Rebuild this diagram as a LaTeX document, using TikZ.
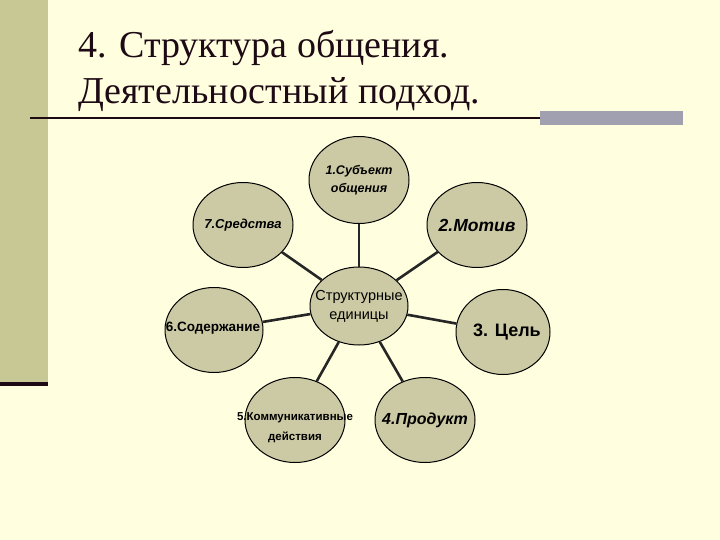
\documentclass[tikz,border=0pt]{standalone}
\usepackage{fontspec}
\setmainfont{Liberation Serif}
\newfontfamily\sansf{Liberation Sans}
\usetikzlibrary{shapes.geometric}
\definecolor{bg}{RGB}{255,255,224}
\definecolor{barc}{RGB}{200,200,148}
\definecolor{ellc}{RGB}{204,202,164}
\definecolor{grayb}{RGB}{160,160,176}
\definecolor{titc}{RGB}{30,10,20}
\begin{document}
\begin{tikzpicture}[x=1pt,y=-1pt,
  el/.style={ellipse,draw=black,line width=1pt,fill=ellc,minimum width=100pt,minimum height=85pt,inner sep=0pt},
  lbl/.style={inner sep=0pt,align=center},
  con/.style={line width=2.6pt,draw=black!85}]
\fill[bg] (0,0) rectangle (720,540);
\useasboundingbox (0,0) rectangle (720,540);
\fill[barc] (0,0) rectangle (48,382);
\fill[titc] (0,382) rectangle (48,386);
\fill[grayb] (540,111) rectangle (683,125);
\draw[line width=2pt,titc] (30,118) -- (540,118);
\node[anchor=base west,inner sep=0pt,text=titc,font=\fontsize{38}{40}\selectfont] (t1) at (78,58) {4. Структура общения.};
\node[anchor=base west,inner sep=0pt,text=titc,font=\fontsize{38}{40}\selectfont] (t2) at (78,104) {Деятельностный подход.};
\node[el,minimum width=98pt,minimum height=78pt] (c) at (359,306) {};
\node[el,minimum height=87pt] (n1) at (359,180) {};
\node[el] (n2) at (477,225) {};
\node[el,minimum width=94pt] (n3) at (503,332) {};
\node[el] (n4) at (425,420) {};
\node[el] (n5) at (295,420) {};
\node[el,minimum width=98pt] (n6) at (214,330) {};
\node[el] (n7) at (243,225) {};
\foreach \n in {n1,n2,n3,n4,n5,n6,n7} \draw[con] (c) -- (\n);
\node[lbl,font=\sansf\fontsize{14.5}{19}\selectfont] (lc) at (c) {Структурные\\единицы};
\node[lbl,font=\sansf\bfseries\itshape\fontsize{12.5}{18}\selectfont] (l1) at (n1) {1.Субъект\\общения};
\node[lbl,font=\sansf\bfseries\itshape\fontsize{17.5}{20}\selectfont] (l2) at (n2) {2.Мотив};
\node[lbl,font=\sansf\bfseries\fontsize{18}{20}\selectfont] (l3) at ([xshift=4pt]n3.center) {3. Цель};
\node[lbl,font=\sansf\bfseries\itshape\fontsize{16}{20}\selectfont] (l4) at (n4) {4.Продукт};
\node[lbl,font=\sansf\bfseries\fontsize{11.5}{20}\selectfont] (l5) at ([yshift=-8pt]n5.center) {5.Коммуникативные\\действия};
\node[lbl,font=\sansf\bfseries\fontsize{13.5}{16}\selectfont] (l6) at ([xshift=-1pt,yshift=2pt]n6.center) {6.Содержание};
\node[lbl,font=\sansf\bfseries\itshape\fontsize{13}{16}\selectfont] (l7) at (n7) {7.Средства};
\end{tikzpicture}
\end{document}
